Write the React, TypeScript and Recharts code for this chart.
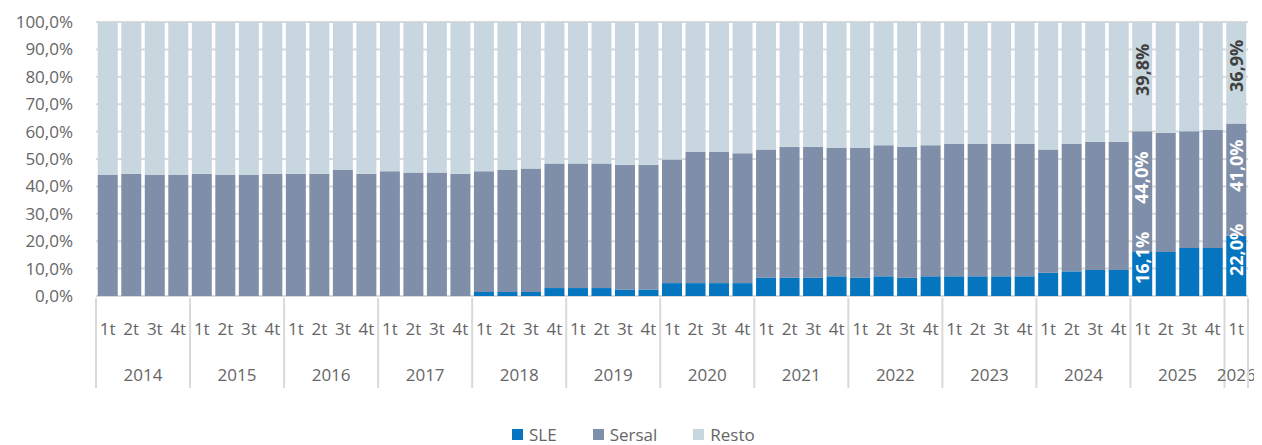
import { BarChart, Bar, XAxis, YAxis, CartesianGrid } from 'recharts'

const YEARS = ['2014', '2015', '2016', '2017', '2018', '2019', '2020', '2021', '2022', '2023', '2024', '2025', '2026']
const QUARTERS = ['1t', '2t', '3t', '4t']

// cuota por trimestre (%), 2014 1t .. 2026 1t
const SLE = [
  0, 0, 0, 0, 0, 0, 0, 0, 0, 0, 0, 0, 0, 0, 0, 0,
  1.5, 1.5, 1.5, 2.9, 2.9, 2.9, 2.4, 2.4, 4.7, 4.7, 4.7, 4.7,
  6.7, 6.7, 6.7, 7.2, 6.7, 7.2, 6.7, 7.2, 7.2, 7.2, 7.2, 7.2,
  8.5, 9.0, 9.5, 9.5, 16.1, 16.1, 17.5, 17.5, 22.0,
]
const SERSAL = [
  44.2, 44.6, 44.2, 44.2, 44.6, 44.2, 44.2, 44.6, 44.6, 44.6, 46.0, 44.6, 45.5, 45.1, 45.1, 44.6,
  44.0, 44.5, 45.0, 45.5, 45.5, 45.5, 45.5, 45.5, 45.1, 47.9, 47.9, 47.4,
  46.8, 47.8, 47.8, 46.8, 47.3, 47.8, 47.8, 47.8, 48.3, 48.3, 48.3, 48.3,
  45.0, 46.5, 46.8, 46.8, 44.0, 43.5, 42.6, 43.1, 41.0,
]
const RESTO = [
  55.8, 55.4, 55.8, 55.8, 55.4, 55.8, 55.8, 55.4, 55.4, 55.4, 54.0, 55.4, 54.5, 54.9, 54.9, 55.4,
  54.5, 54.0, 53.5, 51.6, 51.6, 51.6, 52.1, 52.1, 50.2, 47.4, 47.4, 47.9,
  46.5, 45.5, 45.5, 46.0, 46.0, 45.0, 45.5, 45.0, 44.5, 44.5, 44.5, 44.5,
  46.5, 44.5, 43.7, 43.7, 39.8, 40.4, 39.9, 39.4, 36.9,
]
const LABELLED = [44, 48]

const COLORS = { sle: '#0575c0', sersal: '#7f8ea9', resto: '#c8d7df' }
const FONT = '"Open Sans", sans-serif'
const TXT = '#666666'

const data = SLE.map((sle, i) => {
  const year = YEARS[Math.floor(i / 4)]
  const q = QUARTERS[i % 4]
  return { key: `${year}-${q}`, year, q, sle, sersal: SERSAL[i], resto: RESTO[i] }
})

const W = 1254
const H = 437
const M = { top: 14, right: 14, left: 8, bottom: 29 }
const Y_W = 80
const BW = (W - M.left - M.right - Y_W) / data.length

const pct = (v: number) => `${v.toFixed(1).replace('.', ',')}%`

function QuarterTick(props: any) {
  const { x, y, payload } = props
  const i = payload.index
  const row = data[i]
  const last = i === data.length - 1
  const groupLen = data.filter((d) => d.year === row.year).length
  const first = i % 4 === 0
  return (
    <g>
      <text x={x} y={y + 33} textAnchor="middle" dy="0.35em" fill={TXT} fontSize={17} fontFamily={FONT}>
        {row.q}
      </text>
      {first && (
        <>
          <line x1={x - BW / 2} x2={x - BW / 2} y1={y + 2} y2={y + 92} stroke="#d9d9d9" strokeWidth={2} />
          <text
            x={x + ((groupLen - 1) * BW) / 2}
            y={y + 79}
            textAnchor="middle"
            dy="0.35em"
            fill={TXT}
            fontSize={17}
            fontFamily={FONT}
          >
            {row.year}
          </text>
        </>
      )}
      {last && <line x1={x + BW / 2} x2={x + BW / 2} y1={y + 2} y2={y + 92} stroke="#d9d9d9" strokeWidth={2} />}
    </g>
  )
}

function VText({ x, y, color, children }: { x: number; y: number; color: string; children: string }) {
  return (
    <text
      x={x}
      y={y}
      transform={`rotate(-90 ${x} ${y})`}
      textAnchor="middle"
      dy="0.35em"
      fill={color}
      fontSize={18}
      fontWeight={700}
      fontFamily={FONT}
    >
      {children}
    </text>
  )
}

// labels for all three segments, drawn from the top series so nothing covers them
const segmentLabels = (props: any) => {
  const { x, y, width, height, index } = props
  if (!LABELLED.includes(index)) return null
  const row = data[index]
  const k = height / row.resto
  const cx = x + width / 2
  const restoMid = y + height / 2
  const sersalTop = y + height
  const sersalMid = sersalTop + (row.sersal * k) / 2
  const sleMid = sersalTop + row.sersal * k + (row.sle * k) / 2
  return (
    <g key={`lbl-${index}`}>
      <VText x={cx} y={sleMid - 16} color="#ffffff">{pct(row.sle)}</VText>
      <VText x={cx} y={sersalMid - 14} color="#ffffff">{pct(row.sersal)}</VText>
      <VText x={cx} y={restoMid - 7} color="#404040">{pct(row.resto)}</VText>
    </g>
  )
}

const LEGEND = [
  { name: 'SLE', color: COLORS.sle },
  { name: 'Sersal', color: COLORS.sersal },
  { name: 'Resto', color: COLORS.resto },
]

export default function App() {
  return (
    <div style={{ position: 'relative', width: W, height: H, fontFamily: FONT }}>
      <BarChart width={W} height={H} data={data} margin={M} barCategoryGap="7.5%">
        <CartesianGrid vertical={false} stroke="#d9d9d9" strokeWidth={2} />
        <XAxis
          dataKey="key"
          interval={0}
          height={120}
          axisLine={false}
          tickLine={false}
          tickSize={0}
          tickMargin={0}
          tick={(p: any) => <QuarterTick {...p} />}
        />
        <YAxis
          width={Y_W}
          domain={[0, 100]}
          ticks={[0, 10, 20, 30, 40, 50, 60, 70, 80, 90, 100]}
          tickFormatter={pct}
          axisLine={false}
          tickLine={false}
          tickSize={0}
          tickMargin={23}
          tick={{ fill: TXT, fontSize: 17, fontFamily: FONT }}
        />
        <Bar dataKey="sle" name="SLE" stackId="a" fill={COLORS.sle} isAnimationActive={false} />
        <Bar dataKey="sersal" name="Sersal" stackId="a" fill={COLORS.sersal} isAnimationActive={false} />
        <Bar dataKey="resto" name="Resto" stackId="a" fill={COLORS.resto} isAnimationActive={false} label={segmentLabels} />
      </BarChart>
      <div
        style={{
          position: 'absolute',
          left: 504,
          top: 418,
          display: 'flex',
          gap: 36,
          fontSize: 17,
          lineHeight: '17px',
          color: TXT,
        }}
      >
        {LEGEND.map((l) => (
          <div key={l.name} style={{ display: 'flex', alignItems: 'center' }}>
            <span style={{ width: 11, height: 11, background: l.color, marginRight: 6, display: 'inline-block' }} />
            <span>{l.name}</span>
          </div>
        ))}
      </div>
    </div>
  )
}
